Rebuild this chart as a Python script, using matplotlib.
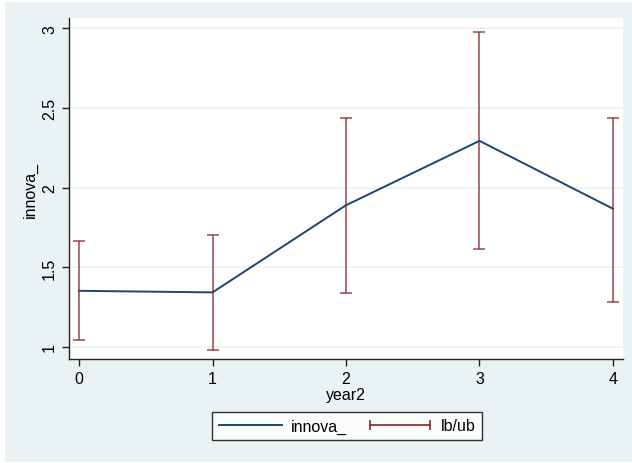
import matplotlib
matplotlib.use("Agg")
import matplotlib.pyplot as plt
from matplotlib.patches import Rectangle
from matplotlib.lines import Line2D
from matplotlib.legend_handler import HandlerBase

year2 = [0, 1, 2, 3, 4]
innova = [1.353, 1.343, 1.89, 2.294, 1.868]
lb = [1.042, 0.984, 1.34, 1.616, 1.285]
ub = [1.667, 1.703, 2.44, 2.979, 2.44]
yticks = [1, 1.5, 2, 2.5, 3]
ytick_labels = ["1", "1.5", "2", "2.5", "3"]
xticks = [0, 1, 2, 3, 4]

plt.rcParams['font.family'] = ['Liberation Sans', 'DejaVu Sans']

W, H = 632, 464
bg = "#EAF2F3"
blue = "#1a476f"
red = "#90353b"
FS = 11.5


class HBarHandler(HandlerBase):
    def create_artists(self, legend, orig_handle, xdescent, ydescent,
                       width, height, fontsize, trans):
        y = height / 2 - ydescent
        x0, x1 = -xdescent + 1, width - xdescent - 2
        c = 3.0
        arts = [Line2D([x0, x1], [y, y], color=red, linewidth=1.3),
                Line2D([x0, x0], [y - c, y + c], color=red, linewidth=1.3),
                Line2D([x1, x1], [y - c, y + c], color=red, linewidth=1.3)]
        for a in arts:
            a.set_transform(trans)
        return arts


fig = plt.figure(figsize=(W / 100, H / 100), dpi=100, facecolor="white")
fig.patches.append(Rectangle((5 / W, 1 / H), 1 - 5 / W, (H - 4) / H,
                             transform=fig.transFigure, facecolor=bg,
                             edgecolor="none", zorder=-10))

ax = fig.add_axes([69 / W, (H - 360) / H, (623 - 69) / W, (360 - 19) / H])
ax.set_facecolor("white")
ax.set_xlim(-0.075, 4.075)
ax.set_ylim(0.925, 3.065)

for s in ["top", "right"]:
    ax.spines[s].set_visible(False)
for s in ["left", "bottom"]:
    ax.spines[s].set_color("#222222")
    ax.spines[s].set_linewidth(1.0)

ax.set_yticks(yticks)
ax.set_yticklabels(ytick_labels, rotation=90, va="center")
ax.set_xticks(xticks)
ax.tick_params(axis="both", direction="out", length=5, width=1, color="#222222",
               labelsize=FS, pad=3.5)
ax.yaxis.grid(True, color=bg, linewidth=1.1)
ax.set_axisbelow(True)

mid = [(a + b) / 2 for a, b in zip(lb, ub)]
ax.errorbar(year2, mid,
            yerr=[[m - a for m, a in zip(mid, lb)],
                  [b - m for m, b in zip(mid, ub)]],
            fmt="none", ecolor=red, elinewidth=1.2, capsize=4.5, capthick=1.2,
            alpha=0.85, zorder=2)
ax.plot(year2, innova, color=blue, linewidth=1.4, zorder=3)

ax.set_xlabel("year2", fontsize=FS, labelpad=1)
ax.set_ylabel("innova_", fontsize=FS, labelpad=3)

# legend
h1 = Line2D([], [], color=blue, linewidth=1.4)
h2 = object()
leg = fig.legend([h1, h2], ["innova_", "lb/ub"], loc="center",
                 bbox_to_anchor=(347 / W, 1 - 427 / H), ncol=2, fontsize=FS,
                 frameon=True, fancybox=False, edgecolor="black",
                 handlelength=4.0, columnspacing=1.4, handletextpad=0.5,
                 borderpad=0.4, handler_map={object: HBarHandler()})
leg.get_frame().set_linewidth(1.0)
leg.get_frame().set_facecolor("white")

fig.savefig("out.png", dpi=100, facecolor=fig.get_facecolor())
